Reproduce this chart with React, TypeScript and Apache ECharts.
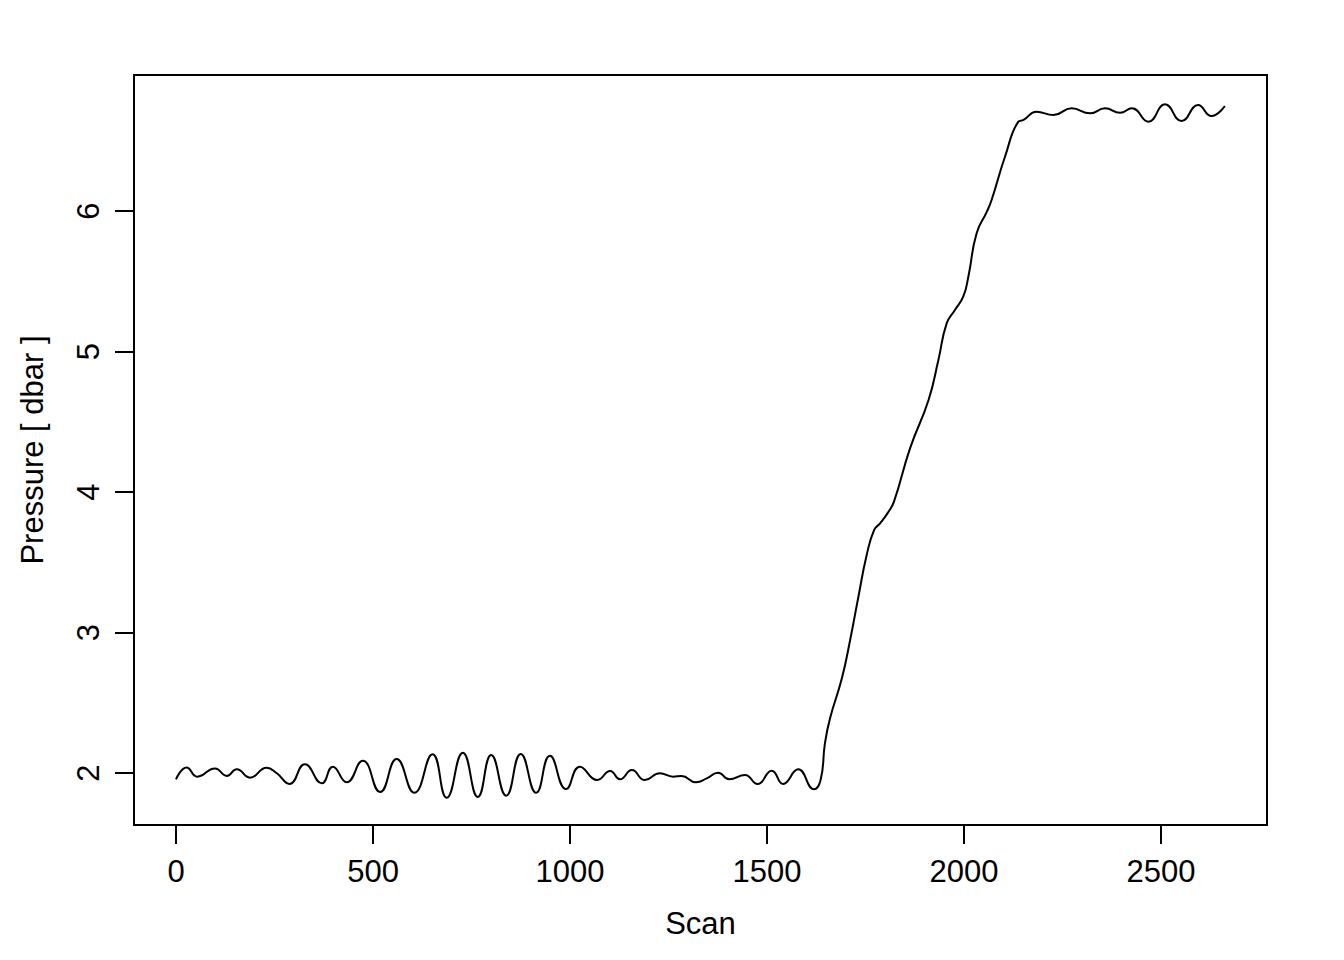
import React, { useEffect, useRef } from "react";
import * as echarts from "echarts";

const scan = [
  0, 27, 54, 99, 129, 154, 188, 230, 256, 288, 327, 370, 398, 433, 474, 518, 560, 605, 651, 687,
  728, 766, 800, 838, 875, 914, 949, 990, 1025, 1069, 1102, 1127, 1157, 1190, 1228, 1262, 1283,
  1320, 1347, 1376, 1404, 1444, 1476, 1512, 1541, 1579, 1619, 1636, 1647, 1660, 1690, 1711, 1732,
  1753, 1772, 1787, 1806, 1822, 1863, 1910, 1935, 1956, 1977, 1998, 2011, 2032, 2058, 2070, 2104,
  2138, 2151, 2184, 2227, 2273, 2320, 2358, 2396, 2426, 2468, 2510, 2552, 2594, 2628, 2662,
];

const pressure = [
  1.955, 2.04, 1.974, 2.033, 1.979, 2.026, 1.967, 2.038, 1.998, 1.922, 2.062, 1.927, 2.045, 1.934,
  2.088, 1.865, 2.1, 1.86, 2.133, 1.824, 2.145, 1.83, 2.128, 1.839, 2.135, 1.86, 2.123, 1.886,
  2.045, 1.95, 2.014, 1.955, 2.021, 1.95, 1.998, 1.974, 1.979, 1.934, 1.962, 2.002, 1.955, 1.986,
  1.922, 2.017, 1.922, 2.026, 1.884, 1.95, 2.211, 2.39, 2.674, 2.947, 3.255, 3.552, 3.73, 3.777,
  3.85, 3.93, 4.311, 4.655, 4.94, 5.2, 5.295, 5.39, 5.532, 5.841, 5.995, 6.078, 6.386, 6.636,
  6.648, 6.707, 6.683, 6.731, 6.695, 6.731, 6.699, 6.731, 6.636, 6.759, 6.64, 6.754, 6.676, 6.747,
];

const xTicks = [0, 500, 1000, 1500, 2000, 2500];
const yTicks = [2, 3, 4, 5, 6];

const xName = "Scan";
const yName = "Pressure [ dbar ]";

const FONT = "Liberation Sans, Arial, Helvetica, sans-serif";
const FS = 31;

export default function App() {
  const ref = useRef<HTMLDivElement>(null);

  useEffect(() => {
    if (!ref.current) return;
    const chart = echarts.init(ref.current, null, { renderer: "svg" });
    const data = scan.map((s, i) => [s, pressure[i]]);
    chart.setOption({
      animation: false,
      backgroundColor: "#ffffff",
      grid: {
        left: 134,
        top: 75,
        width: 1133,
        height: 750,
        show: true,
        borderColor: "#000000",
        borderWidth: 2,
        backgroundColor: "transparent",
        containLabel: false,
      },
      xAxis: {
        type: "value",
        min: -106.6,
        max: 2769,
        name: xName,
        nameLocation: "middle",
        nameGap: 83,
        nameTextStyle: { fontFamily: FONT, fontSize: FS, color: "#000", lineHeight: FS },
        axisLine: { show: false, onZero: false },
        splitLine: { show: false },
        axisTick: {
          show: true,
          length: 19,
          customValues: xTicks,
          lineStyle: { color: "#000", width: 2 },
        },
        axisLabel: {
          customValues: xTicks,
          margin: 31,
          fontFamily: FONT,
          fontSize: FS,
          color: "#000",
          lineHeight: FS,
          formatter: (v: number) => String(v),
        },
      },
      yAxis: {
        type: "value",
        min: 1.63,
        max: 6.968,
        name: yName,
        nameLocation: "middle",
        nameGap: 86,
        nameRotate: 90,
        nameTextStyle: { fontFamily: FONT, fontSize: FS, color: "#000", lineHeight: FS },
        axisLine: { show: false, onZero: false },
        splitLine: { show: false },
        axisTick: {
          show: true,
          length: 19,
          customValues: yTicks,
          lineStyle: { color: "#000", width: 2 },
        },
        axisLabel: {
          customValues: yTicks,
          rotate: 90,
          margin: 30,
          fontFamily: FONT,
          fontSize: FS,
          color: "#000",
          lineHeight: FS,
          align: "center",
          verticalAlign: "bottom",
          formatter: (v: number) => String(v),
        },
      },
      series: [
        {
          type: "line",
          data,
          smooth: 0.5,
          showSymbol: false,
          symbol: "none",
          lineStyle: { color: "#000000", width: 2 },
          clip: true,
        },
      ],
    });
    return () => chart.dispose();
  }, []);

  return (
    <div
      ref={ref}
      style={{ position: "fixed", left: 0, top: 0, width: 1344, height: 960, background: "#fff" }}
    />
  );
}
